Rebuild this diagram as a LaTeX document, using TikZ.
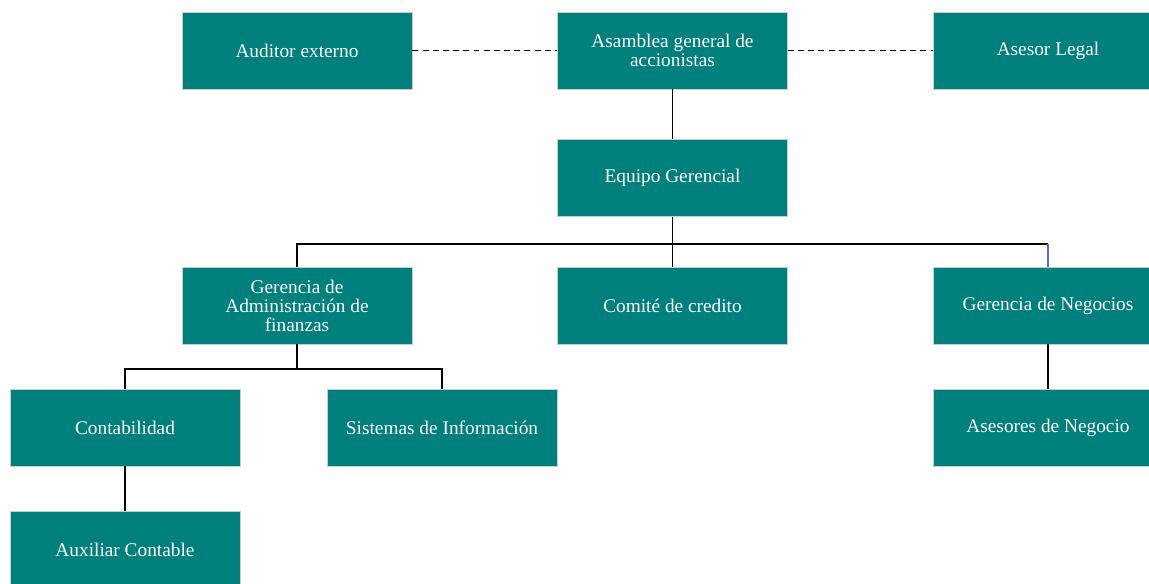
\documentclass[tikz,border=0pt]{standalone}
\usepackage{fontspec}
\setmainfont{Liberation Serif}
\definecolor{tealbox}{RGB}{0,128,124}
\definecolor{bordgray}{RGB}{200,205,205}
\definecolor{linkblue}{RGB}{90,110,200}

\tikzset{
  cargo/.style={draw=bordgray, line width=0.4pt, fill=tealbox, text=white,
    minimum width=4.6cm, minimum height=1.54cm, align=center,
    font=\fontsize{11}{10.8}\selectfont},
  enlace/.style={line width=1pt},
  asesoria/.style={line width=1.1pt, dash pattern=on 3.4pt off 2.4pt}
}

\begin{document}
\begin{tikzpicture}
 \clip (0,0) rectangle (22.98,-11.66);

 \node [cargo] (auditor)  at (5.94,-1.01)  {Auditor externo};
 \node [cargo] (asamblea) at (13.45,-1.01) {Asamblea general de\\accionistas};
 \node [cargo] (asesor)   at (20.96,-1.01) {Asesor Legal};

 \node [cargo] (equipo)   at (13.45,-3.56) {Equipo Gerencial};

 \node [cargo] (admin)    at (5.94,-6.11)  {Gerencia de\\Administración de\\finanzas};
 \node [cargo] (comite)   at (13.45,-6.11) {Comité de credito};
 \node [cargo] (negocios) at (20.96,-6.11) {Gerencia de Negocios};

 \node [cargo] (conta)    at (2.5,-8.55)   {Contabilidad};
 \node [cargo] (sistemas) at (8.84,-8.55)  {Sistemas de Información};
 \node [cargo] (asesores) at (20.96,-8.55) {Asesores de Negocio};

 \node [cargo] (auxiliar) at (2.5,-10.99)  {Auxiliar Contable};

 \coordinate (ramaA) at (13.45,-4.88);
 \coordinate (ramaB) at (5.94,-7.38);
 \coordinate (ramaC) at (20.96,-4.88);

\draw [asesoria] (auditor) -- (asamblea);
\draw [asesoria] (asamblea) -- (asesor);
\draw [enlace] (asamblea) -- (equipo);

\draw [enlace] (equipo) -- (ramaA) -| (admin);
\draw [enlace] (ramaA) -- (comite);
\draw [enlace] (ramaA) -- (ramaC);
\draw [linkblue, line width=0.8pt] (ramaC) -- (negocios);

\draw [enlace] (admin) -- (ramaB) -| (conta);
\draw [enlace] (ramaB) -| (sistemas);
\draw [enlace] (conta) -- (auxiliar);
\draw [enlace] (negocios) -- (asesores);

\end{tikzpicture}
\end{document}
